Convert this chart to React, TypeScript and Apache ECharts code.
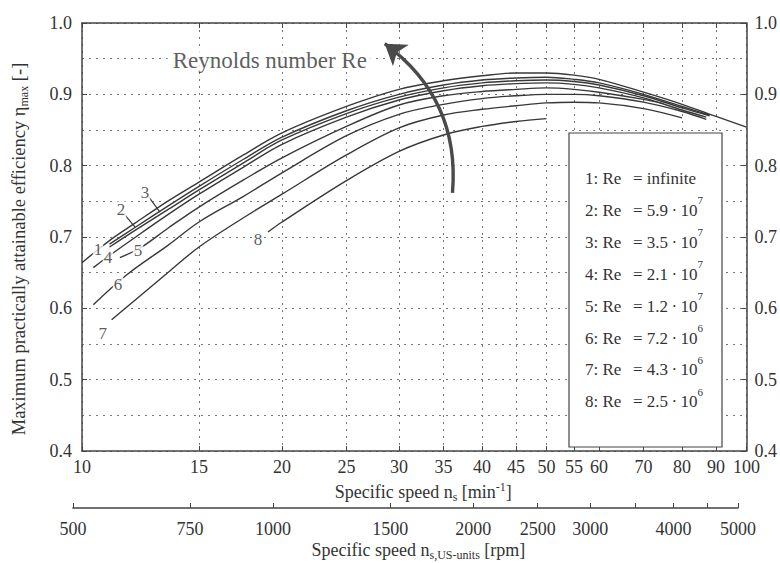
import React, { useEffect, useRef } from 'react';
import * as echarts from 'echarts';

// ---------------- data ----------------
const NS_TICKS = [10, 15, 20, 25, 30, 35, 40, 45, 50, 55, 60, 70, 80, 90, 100];
const ETA_MIN = 0.4;
const ETA_MAX = 1.0;
const ETA_STEP = 0.1;
const US_TICKS = [500, 750, 1000, 1500, 2000, 2500, 3000, 3500, 4000, 4500, 5000];
const US_LABELS = [500, 750, 1000, 1500, 2000, 2500, 3000, 4000, 5000];
const US_PER_SI = 51.6;

const CURVE_NAMES = ['1', '2', '3', '4', '5', '6', '7', '8'];
const RE_MANTISSA = ['infinite', '5.9', '3.5', '2.1', '1.2', '7.2', '4.3', '2.5'];
const RE_EXPONENT = ['', '7', '7', '7', '7', '6', '6', '6'];

const NS_1 = [10, 11, 12, 13.5, 15, 17.5, 20, 25, 30, 35, 40, 45, 50, 55, 60, 70, 80, 90, 100];
const ETA_1 = [0.664, 0.695, 0.719, 0.751, 0.777, 0.815, 0.846, 0.883, 0.907, 0.919, 0.926, 0.930, 0.930, 0.927, 0.921, 0.903, 0.886, 0.869, 0.854];
const NS_2 = [11, 12, 13.5, 15, 17.5, 20, 25, 30, 35, 40, 45, 50, 55, 60, 70, 80, 88];
const ETA_2 = [0.690, 0.713, 0.744, 0.771, 0.809, 0.840, 0.877, 0.900, 0.913, 0.920, 0.923, 0.924, 0.921, 0.916, 0.900, 0.883, 0.871];
const NS_3 = [11, 12, 13.5, 15, 17.5, 20, 25, 30, 35, 40, 45, 50, 55, 60, 70, 80, 88];
const ETA_3 = [0.686, 0.709, 0.739, 0.766, 0.804, 0.836, 0.873, 0.896, 0.909, 0.916, 0.919, 0.920, 0.918, 0.913, 0.898, 0.881, 0.870];
const NS_4 = [10.4, 11, 12, 13.5, 15, 17.5, 20, 25, 30, 35, 40, 45, 50, 55, 60, 70, 80, 87];
const ETA_4 = [0.657, 0.674, 0.699, 0.732, 0.760, 0.798, 0.830, 0.868, 0.892, 0.905, 0.912, 0.915, 0.916, 0.914, 0.909, 0.895, 0.878, 0.868];
const NS_5 = [11.4, 12.3, 13.5, 15, 17.5, 20, 25, 30, 35, 40, 45, 50, 55, 60, 70, 75];
const ETA_5 = [0.671, 0.686, 0.713, 0.742, 0.780, 0.811, 0.855, 0.885, 0.898, 0.904, 0.907, 0.909, 0.907, 0.903, 0.893, 0.887];
const NS_6 = [10.4, 11.68, 13.5, 15, 17.5, 20, 25, 30, 35, 40, 45, 50, 55, 60, 70, 80, 87];
const ETA_6 = [0.605, 0.647, 0.689, 0.721, 0.757, 0.790, 0.842, 0.872, 0.886, 0.894, 0.898, 0.900, 0.900, 0.898, 0.889, 0.876, 0.865];
const NS_7 = [11.08, 12, 13.5, 15, 17.5, 20, 25, 30, 35, 40, 45, 50, 55, 60, 70, 80];
const ETA_7 = [0.584, 0.611, 0.651, 0.686, 0.727, 0.760, 0.815, 0.853, 0.871, 0.879, 0.884, 0.888, 0.889, 0.888, 0.880, 0.867];
const NS_8 = [19.05, 20, 25, 30, 35, 40, 45, 50];
const ETA_8 = [0.707, 0.721, 0.779, 0.820, 0.843, 0.855, 0.862, 0.866];

// inline curve number labels
const LABEL_TEXT = ['1', '4', '5', '6', '7', '8', '2', '3'];
const LABEL_NS = [10.57, 10.94, 12.14, 11.33, 10.75, 18.4, 11.45, 12.44];
const LABEL_ETA = [0.682, 0.671, 0.681, 0.633, 0.565, 0.696, 0.738, 0.763];
// leader lines for labels 2 and 3
const LEADER_NS = [[11.6, 12.02], [12.61, 13.1]];
const LEADER_ETA = [[0.731, 0.714], [0.756, 0.735]];
// Reynolds arrow (tail -> head)
const ARROW_NS = [36.1, 28.55];
const ARROW_ETA = [0.762, 0.971];
const TITLE_TEXT = 'Reynolds number Re';
const TITLE_NS = 19.17;
const TITLE_ETA = 0.948;

const CURVES = [
  [NS_1, ETA_1], [NS_2, ETA_2], [NS_3, ETA_3], [NS_4, ETA_4],
  [NS_5, ETA_5], [NS_6, ETA_6], [NS_7, ETA_7], [NS_8, ETA_8],
];

// ---------------- layout / style ----------------
const FONT = '"Liberation Serif", "DejaVu Serif", serif';
const INK = '#333';
const AXIS = '#444';
const LINE = '#383838';
const GRIDC = '#777';
const DOT = [2, 5];
const GL = 82;
const GR = 747;
const GT = 23;
const GB = 451;
const US_Y = 508;

const LOG = Math.log10;

export default function App() {
  const ref = useRef<HTMLDivElement>(null);

  useEffect(() => {
    if (!ref.current) return;
    const chart = echarts.init(ref.current, null, { renderer: 'svg' });
    const W = GR - GL;
    const usLeft = GL + W * (LOG(US_TICKS[0] / US_PER_SI) - LOG(NS_TICKS[0]));
    const usWidth = W * (LOG(US_TICKS[US_TICKS.length - 1]) - LOG(US_TICKS[0])) / (LOG(NS_TICKS[NS_TICKS.length - 1]) - LOG(NS_TICKS[0]));

    const richName = {
      t: { fontSize: 18, fontFamily: FONT, color: INK, lineHeight: 22, verticalAlign: 'middle' },
      sub: { fontSize: 12, fontFamily: FONT, color: INK, lineHeight: 12, verticalAlign: 'bottom' },
      sup: { fontSize: 12, fontFamily: FONT, color: INK, lineHeight: 12, verticalAlign: 'top' },
    };
    const tickLabel = { fontSize: 18, fontFamily: FONT, color: INK };

    const nsTickVals = NS_TICKS.map(LOG);

    const curveSeries = CURVES.map(([ns, eta], i) => ({
      type: 'line',
      name: CURVE_NAMES[i],
      xAxisIndex: 0,
      yAxisIndex: 0,
      data: ns.map((n, j) => [LOG(n), eta[j]]),
      symbol: 'none',
      showSymbol: false,
      smooth: 0.35,
      silent: true,
      lineStyle: { color: LINE, width: 1.4 },
      z: 3,
    }));

    const leaderSeries = LEADER_NS.map((nsPair, i) => ({
      type: 'line',
      xAxisIndex: 0,
      yAxisIndex: 0,
      data: nsPair.map((n, j) => [LOG(n), LEADER_ETA[i][j]]),
      symbol: 'none',
      silent: true,
      lineStyle: { color: LINE, width: 1.2 },
      z: 3,
    }));

    const labelSeries = {
      type: 'scatter',
      xAxisIndex: 0,
      yAxisIndex: 0,
      symbolSize: 1,
      silent: true,
      itemStyle: { color: 'rgba(0,0,0,0)' },
      z: 6,
      data: LABEL_TEXT.map((t, i) => ({ name: t, value: [LOG(LABEL_NS[i]), LABEL_ETA[i]] })),
      label: {
        show: true,
        position: 'inside',
        formatter: (p: any) => p.name,
        fontSize: 17,
        fontFamily: FONT,
        color: INK,
        backgroundColor: '#fff',
        padding: [0, 1],
      },
    };

    const titleSeries = {
      type: 'scatter',
      xAxisIndex: 0,
      yAxisIndex: 0,
      symbolSize: 1,
      silent: true,
      itemStyle: { color: 'rgba(0,0,0,0)' },
      z: 6,
      data: [{ name: TITLE_TEXT, value: [LOG(TITLE_NS), TITLE_ETA] }],
      label: {
        show: true,
        position: 'inside',
        formatter: (p: any) => p.name,
        fontSize: 23,
        fontFamily: FONT,
        color: INK,
        backgroundColor: '#fff',
        padding: [0, 5],
      },
    };

    const arrowSeries = {
      type: 'lines',
      coordinateSystem: 'cartesian2d',
      xAxisIndex: 0,
      yAxisIndex: 0,
      silent: true,
      symbol: ['none', 'arrow'],
      symbolSize: 20,
      z: 7,
      lineStyle: { color: '#4a4a4a', width: 3.4, curveness: -0.28, opacity: 1 },
      data: [{ coords: ARROW_NS.map((n, i) => [LOG(n), ARROW_ETA[i]]) }],
    };

    // legend box (graphic)
    const boxX = 569, boxY = 133, boxW = 153, boxH = 314;
    const row0 = 175, rowGap = 31.9;
    const legendRich = {
      b: { fontSize: 17, fontFamily: FONT, color: INK, lineHeight: 24, verticalAlign: 'bottom' },
      sup: { fontSize: 11, fontFamily: FONT, color: INK, lineHeight: 14, verticalAlign: 'top' },
    };
    const legendEls: any[] = [
      {
        type: 'rect',
        z: 20,
        shape: { x: boxX, y: boxY, width: boxW, height: boxH },
        style: { fill: '#fff', stroke: '#444', lineWidth: 1.2 },
      },
    ];
    CURVE_NAMES.forEach((n, i) => {
      const y = row0 + i * rowGap;
      legendEls.push({
        type: 'text', z: 21, x: 585, y,
        style: { text: `{b|${n}: Re}`, rich: legendRich, fontSize: 17, fontFamily: FONT, fill: INK, verticalAlign: 'middle' },
      });
      const right = RE_EXPONENT[i]
        ? `{b|= ${RE_MANTISSA[i]}\u2009\u00B7\u200910}{sup|${RE_EXPONENT[i]}}`
        : `{b|= ${RE_MANTISSA[i]}}`;
      legendEls.push({
        type: 'text', z: 21, x: 633, y,
        style: { text: right, rich: legendRich, fontSize: 17, fontFamily: FONT, fill: INK, verticalAlign: 'middle' },
      });
    });

    const option: any = {
      animation: false,
      backgroundColor: '#fff',
      grid: [
        { left: GL, top: GT, width: W, height: GB - GT },
        { left: usLeft, top: US_Y - 1, width: usWidth, height: 1 },
      ],
      xAxis: [
        {
          type: 'value', gridIndex: 0, position: 'bottom',
          min: LOG(NS_TICKS[0]), max: LOG(NS_TICKS[NS_TICKS.length - 1]),
          axisLine: { show: true, lineStyle: { color: AXIS, width: 1.5 } },
          axisTick: { show: true, inside: true, length: 5, customValues: nsTickVals, lineStyle: { color: AXIS } },
          axisLabel: { customValues: nsTickVals, formatter: (v: number) => String(Math.round(Math.pow(10, v))), margin: 7, ...tickLabel },
          splitLine: { show: true, lineStyle: { color: GRIDC, type: DOT, width: 1 } },
          name: '{t|Specific speed n}{sub|s}{t| [min}{sup|-1}{t|]}',
          nameLocation: 'middle',
          nameGap: 28,
          nameTextStyle: { rich: richName, padding: [0, 0, 0, 18] },
        },
        {
          type: 'value', gridIndex: 0, position: 'top',
          min: LOG(NS_TICKS[0]), max: LOG(NS_TICKS[NS_TICKS.length - 1]),
          axisLine: { show: true, lineStyle: { color: AXIS, width: 1.5 } },
          axisTick: { show: true, inside: true, length: 5, customValues: nsTickVals, lineStyle: { color: AXIS } },
          axisLabel: { show: false },
          splitLine: { show: false },
        },
        {
          type: 'value', gridIndex: 1, position: 'bottom',
          min: LOG(US_TICKS[0]), max: LOG(US_TICKS[US_TICKS.length - 1]),
          axisLine: { show: true, lineStyle: { color: AXIS, width: 1.5 } },
          axisTick: { show: true, inside: true, length: 5, customValues: US_TICKS.map(LOG), lineStyle: { color: AXIS } },
          axisLabel: { customValues: US_LABELS.map(LOG), formatter: (v: number) => String(Math.round(Math.pow(10, v))), margin: 12, ...tickLabel },
          splitLine: { show: false },
          name: '{t|Specific speed n}{sub|s,US-units}{t| [rpm]}',
          nameLocation: 'middle',
          nameGap: 31,
          nameTextStyle: { rich: richName, padding: [0, 0, 0, 26] },
        },
      ],
      yAxis: [
        {
          type: 'value', gridIndex: 0, position: 'left',
          min: ETA_MIN, max: ETA_MAX, interval: ETA_STEP,
          axisLine: { show: true, lineStyle: { color: AXIS, width: 1.5 } },
          axisTick: { show: true, inside: true, length: 5, lineStyle: { color: AXIS } },
          axisLabel: { formatter: (v: number) => v.toFixed(1), margin: 10, ...tickLabel },
          splitLine: { show: true, lineStyle: { color: GRIDC, type: DOT, width: 1 } },
          minorTick: { show: false, splitNumber: 2 },
          minorSplitLine: { show: true, lineStyle: { color: GRIDC, type: DOT, width: 1 } },
          name: '{t|Maximum practically attainable efficiency \u03B7}{sub|max}{t| [-]}',
          nameLocation: 'middle',
          nameGap: 52,
          nameRotate: 90,
          nameTextStyle: { rich: { ...richName, t: { ...richName.t, fontSize: 18.5 } }, padding: [0, 24, 0, 0] },
        },
        {
          type: 'value', gridIndex: 0, position: 'right',
          min: ETA_MIN, max: ETA_MAX, interval: ETA_STEP,
          axisLine: { show: true, lineStyle: { color: AXIS, width: 1.5 } },
          axisTick: { show: true, inside: true, length: 5, lineStyle: { color: AXIS } },
          axisLabel: { formatter: (v: number) => v.toFixed(1), margin: 8, ...tickLabel },
          splitLine: { show: false },
        },
        { type: 'value', gridIndex: 1, show: false, min: 0, max: 1 },
      ],
      graphic: legendEls,
      series: [...curveSeries, ...leaderSeries, arrowSeries, labelSeries, titleSeries],
    };

    chart.setOption(option);
    return () => chart.dispose();
  }, []);

  return (
    <div
      ref={ref}
      style={{ position: 'fixed', left: 0, top: 0, width: 780, height: 563, background: '#fff' }}
    />
  );
}
